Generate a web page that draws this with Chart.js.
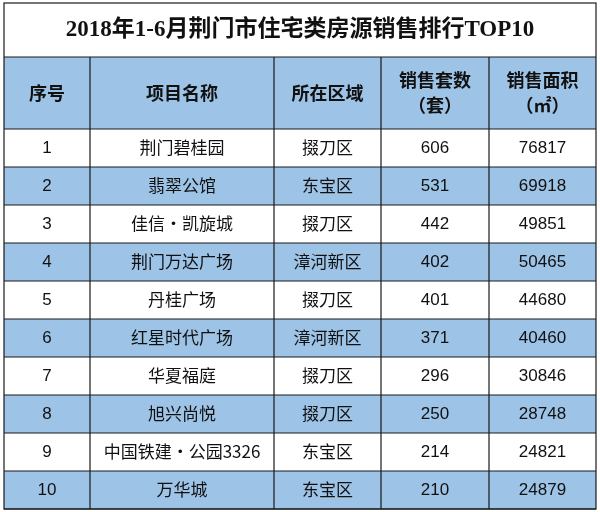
<!DOCTYPE html>
<html><head><meta charset="utf-8">
<script src="https://cdn.jsdelivr.net/npm/chart.js@4/dist/chart.umd.min.js"></script>
<style>html,body{margin:0;padding:0;background:#fff}</style>
</head><body>
<canvas id="c" width="600" height="512"></canvas>
<script>
const title = "2018年1-6月荆门市住宅类房源销售排行TOP10";
const headers = ["序号", "项目名称", "所在区域", "销售套数\n（套）", "销售面积\n（㎡）"];
const ranks = [1,2,3,4,5,6,7,8,9,10];
const names = ["荆门碧桂园","翡翠公馆","佳信·凯旋城","荆门万达广场","丹桂广场","红星时代广场","华夏福庭","旭兴尚悦","中国铁建·公园3326","万华城"];
const districts = ["掇刀区","东宝区","掇刀区","漳河新区","掇刀区","漳河新区","掇刀区","掇刀区","东宝区","东宝区"];
const units = [606,531,442,402,401,371,296,250,214,210];
const areas = [76817,69918,49851,50465,44680,40460,30846,28748,24821,24879];

const colX = [4, 90, 274, 381, 489, 596];
const titleTop = 3, headTop = 57, rowTop = 129, rowH = 38;
const blue = "#9dc3e6";

const tablePlugin = {
  id: 'table',
  afterDraw(chart) {
    const ctx = chart.ctx, xs = chart.scales.x, ys = chart.scales.y;
    const X = v => xs.getPixelForValue(v), Y = v => ys.getPixelForValue(v);
    ctx.save();
    ctx.textAlign = 'center'; ctx.textBaseline = 'middle';
    ctx.fillStyle = blue;
    ctx.fillRect(X(colX[0]), Y(headTop), X(colX[5]) - X(colX[0]), Y(rowTop) - Y(headTop));
    ranks.forEach((r, i) => {
      if (i % 2 === 1) {
        ctx.fillRect(X(colX[0]), Y(rowTop + i*rowH), X(colX[5]) - X(colX[0]), rowH);
      }
    });
    ctx.strokeStyle = "#1a1a1a"; ctx.lineWidth = 1.2;
    const bottom = rowTop + ranks.length*rowH;
    ctx.strokeRect(X(colX[0]), Y(titleTop), X(colX[5]) - X(colX[0]), Y(bottom) - Y(titleTop));
    ctx.beginPath();
    [headTop, rowTop].concat(ranks.map((r,i)=>rowTop+(i+1)*rowH)).forEach(y => {
      ctx.moveTo(X(colX[0]), Y(y)); ctx.lineTo(X(colX[5]), Y(y));
    });
    colX.slice(1,5).forEach(x => { ctx.moveTo(X(x), Y(headTop)); ctx.lineTo(X(x), Y(bottom)); });
    ctx.stroke();
    ctx.fillStyle = "#111";
    ctx.font = "bold 23px 'Liberation Serif','Noto Sans CJK SC'";
    ctx.fillText(title, X((colX[0]+colX[5])/2), Y((titleTop+headTop)/2));
    ctx.font = "bold 18px 'Noto Sans CJK SC'";
    headers.forEach((h, j) => {
      const cx = X((colX[j]+colX[j+1])/2), cy = Y((headTop+rowTop)/2);
      const lines = h.split("\n");
      lines.forEach((l, k) => ctx.fillText(l, cx, cy + (k - (lines.length-1)/2)*25));
    });
    ranks.forEach((r, i) => {
      const cy = Y(rowTop + i*rowH + rowH/2);
      const vals = [r, names[i], districts[i], units[i], areas[i]];
      vals.forEach((v, j) => {
        ctx.font = (typeof v === 'number') ? "17px 'Liberation Sans','Noto Sans CJK SC'" : "17px 'Noto Sans CJK SC'";
        ctx.fillText(String(v), X((colX[j]+colX[j+1])/2), cy);
      });
    });
    ctx.restore();
  }
};

new Chart(document.getElementById('c'), {
  type: 'scatter',
  data: { datasets: [{ data: ranks.map((r,i)=>({x: (colX[0]+colX[1])/2, y: rowTop+i*rowH+rowH/2})), pointRadius: 0 }] },
  options: {
    responsive: false, animation: false,
    layout: { padding: 0 },
    plugins: { legend: { display: false }, tooltip: { enabled: false } },
    scales: {
      x: { type: 'linear', min: 0, max: 600, display: false },
      y: { type: 'linear', min: 0, max: 512, reverse: true, display: false }
    }
  },
  plugins: [tablePlugin]
});
</script>
</body></html>
